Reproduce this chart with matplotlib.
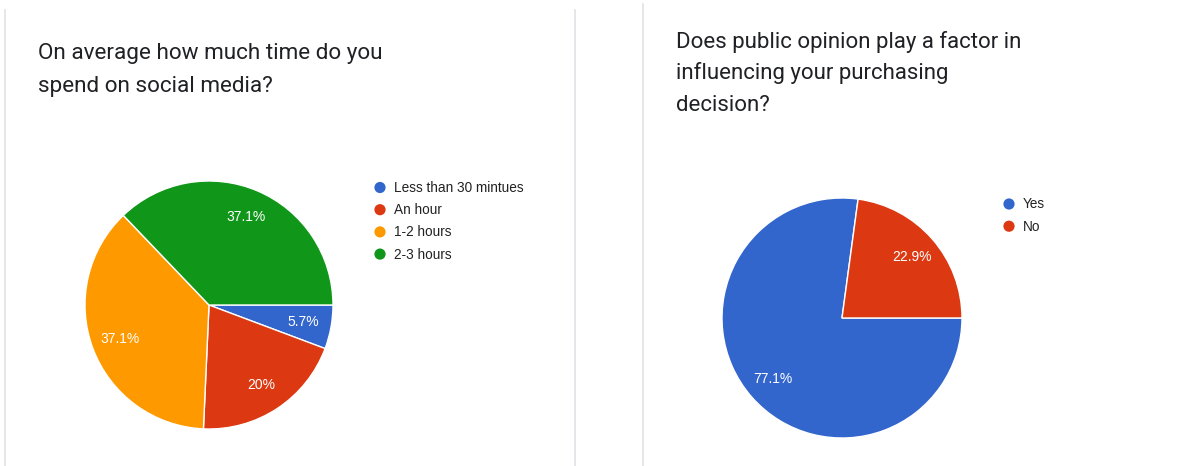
import matplotlib
matplotlib.use("Agg")
import matplotlib.pyplot as plt
from matplotlib.patches import Circle
from matplotlib.lines import Line2D

# ---- data ----
left_title = ["On average how much time do you", "spend on social media?"]
left_labels = ["Less than 30 mintues", "An hour", "1-2 hours", "2-3 hours"]
left_counts = [2, 7, 13, 13]
left_colors = ["#3366cc", "#dc3912", "#ff9900", "#109618"]

right_title = ["Does public opinion play a factor in", "influencing your purchasing", "decision?"]
right_labels = ["Yes", "No"]
right_counts = [27, 8]
right_colors = ["#3366cc", "#dc3912"]

W, H = 1189, 466
fig = plt.figure(figsize=(W / 100, H / 100), dpi=100)
fig.patch.set_facecolor("white")

# overlay axes in pixel coordinates for card borders, titles and legends
ov = fig.add_axes([0, 0, 1, 1])
ov.set_xlim(0, W)
ov.set_ylim(H, 0)
ov.axis("off")

border = "#dfe1e5"
ov.add_line(Line2D([5, 5], [10, H], color=border, lw=1.2))
ov.add_line(Line2D([575, 575], [10, H], color=border, lw=1.2))
ov.add_line(Line2D([643, 643], [4, H], color=border, lw=1.2))

title_font = dict(family=["Roboto", "DejaVu Sans"], fontsize=16.2, color="#202124")
for i, line in enumerate(left_title):
    ov.text(38, 59 + i * 33, line, va="baseline", ha="left", **title_font)
for i, line in enumerate(right_title):
    ov.text(676, 48 + i * 31.5, line, va="baseline", ha="left",
            **dict(title_font, fontsize=16.0))


def fmt(p):
    s = f"{p:.1f}"
    if s.endswith(".0"):
        s = s[:-2]
    return s + "%"


def draw_pie(cx, cy, r, counts, colors):
    ax = fig.add_axes([(cx - r) / W, (H - cy - r) / H, 2 * r / W, 2 * r / H])
    ax.pie(
        counts, colors=colors, startangle=0, counterclock=False,
        autopct=fmt, pctdistance=0.77, radius=1,
        wedgeprops=dict(edgecolor="white", linewidth=1),
        textprops=dict(color="white", fontsize=10, family=["Liberation Sans", "DejaVu Sans"]),
    )
    ax.set_xlim(-1.0, 1.0)
    ax.set_ylim(-1.0, 1.0)
    ax.axis("off")
    return ax


draw_pie(209, 305, 124, left_counts, left_colors)
draw_pie(842, 318, 120, right_counts, right_colors)

leg_font = dict(family=["Liberation Sans", "DejaVu Sans"], fontsize=9.8, color="#222222")


def draw_legend(x, y0, labels, colors, step=22.2):
    for i, (lab, col) in enumerate(zip(labels, colors)):
        y = y0 + i * step
        ov.add_patch(Circle((x, y), 5.6, color=col, lw=0))
        ov.text(x + 14, y + 0.5, lab, va="center", ha="left", **leg_font)


draw_legend(380, 187.5, left_labels, left_colors)
draw_legend(1009, 204, right_labels, right_colors)

fig.savefig("out.png", dpi=100, facecolor="white")
